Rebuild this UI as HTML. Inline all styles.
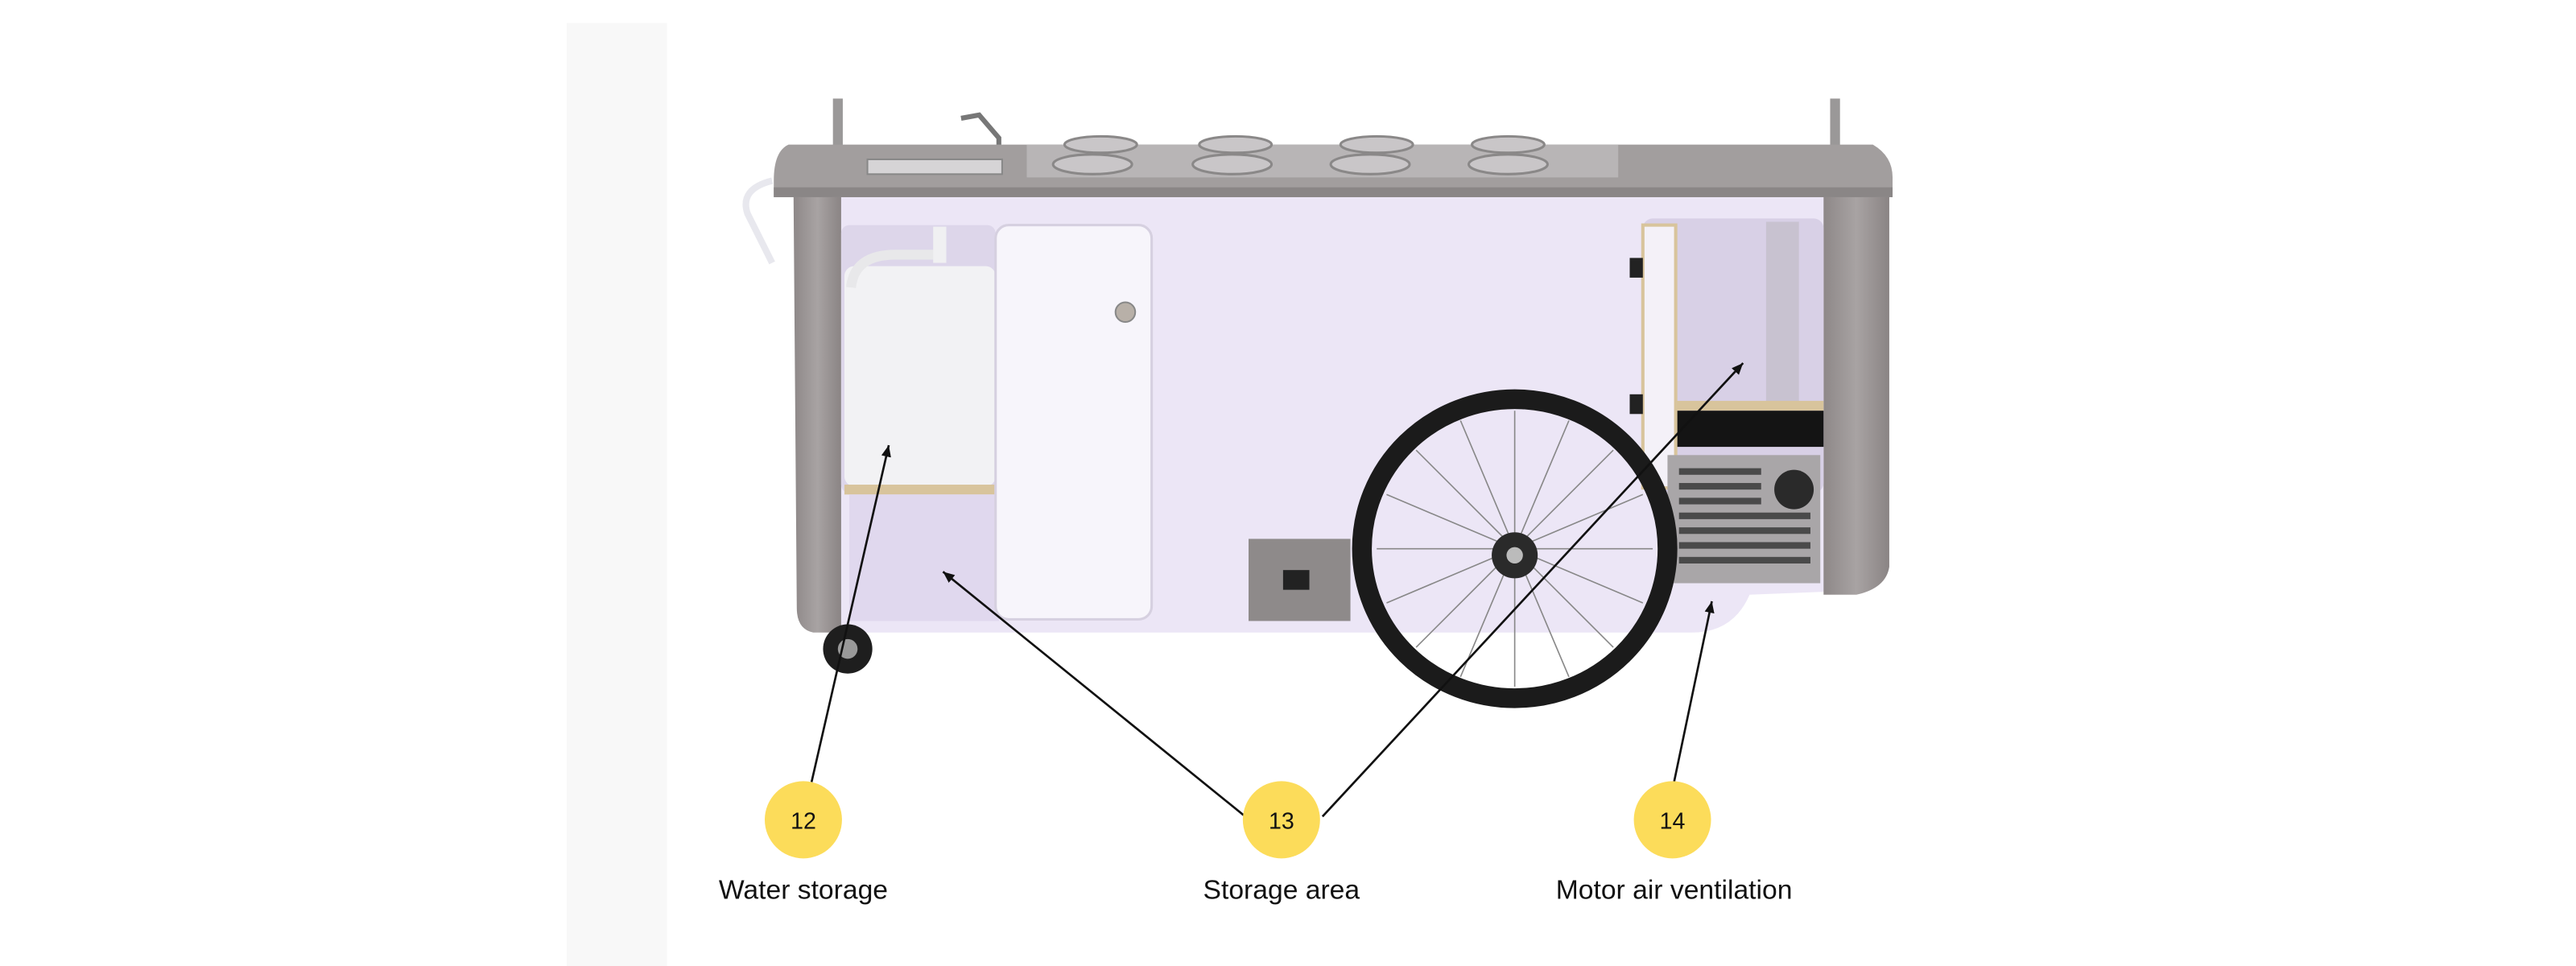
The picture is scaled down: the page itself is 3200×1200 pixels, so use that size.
<!DOCTYPE html>
<html><head><meta charset="utf-8"><style>
html,body{margin:0;padding:0;background:#fff;width:3200px;height:1200px;overflow:hidden}
svg{display:block}
</style></head><body>
<svg width="3200" height="1200" viewBox="0 0 1568 588" preserveAspectRatio="none" xmlns="http://www.w3.org/2000/svg">
<defs>
<marker id="ah" markerWidth="8" markerHeight="8" refX="7" refY="4" orient="auto" markerUnits="userSpaceOnUse"><path d="M0,1 L7,4 L0,7 Z" fill="#111"/></marker>
<linearGradient id="gs" x1="0" x2="1"><stop offset="0" stop-color="#8e8888"/><stop offset=".5" stop-color="#a8a3a3"/><stop offset="1" stop-color="#8a8484"/></linearGradient>
</defs>
<rect x="345" y="14" width="61" height="574" fill="#f8f8f8"/>
<!-- poles -->
<rect x="507" y="60" width="6" height="38" fill="#9a9898"/><rect x="503" y="92" width="14" height="6" fill="#555"/>
<rect x="1114" y="60" width="6" height="38" fill="#9a9898"/><rect x="1110" y="92" width="14" height="6" fill="#555"/>
<!-- faucet -->
<path d="M585,72 L596,70 L608,84 L608,96" stroke="#777" stroke-width="3" fill="none"/>
<!-- handle left -->
<path d="M470,110 Q450,115 455,130 L470,160" stroke="#e8e8ee" stroke-width="4" fill="none"/>
<!-- body -->
<path d="M505,118 L1115,118 L1115,360 L1065,362 Q1055,385 1030,385 L520,385 Q505,385 505,370 Z" fill="#ece6f6"/>
<!-- side panels -->
<path d="M483,116 L512,116 L512,385 L495,385 Q485,383 485,370 Z" fill="url(#gs)"/>
<path d="M1110,116 L1150,116 L1150,345 Q1148,358 1130,362 L1110,362 Z" fill="url(#gs)"/>
<!-- top slab -->
<path d="M480,88 L1140,88 Q1152,95 1152,108 L1152,120 L471,120 L471,110 Q471,92 480,88 Z" fill="#a29e9e"/>
<rect x="471" y="114" width="681" height="6" fill="#8a8686"/>
<rect x="625" y="88" width="360" height="20" fill="#b8b5b6"/>
<rect x="528" y="97" width="82" height="9" fill="#d6d4d6" stroke="#888" stroke-width="1"/>
<g fill="#c9c6c8" stroke="#8a8888" stroke-width="1.5">
<ellipse cx="670" cy="88" rx="22" ry="5"/><ellipse cx="752" cy="88" rx="22" ry="5"/><ellipse cx="838" cy="88" rx="22" ry="5"/><ellipse cx="918" cy="88" rx="22" ry="5"/>
<ellipse cx="665" cy="100" rx="24" ry="6"/><ellipse cx="750" cy="100" rx="24" ry="6"/><ellipse cx="834" cy="100" rx="24" ry="6"/><ellipse cx="918" cy="100" rx="24" ry="6"/>
</g>
<!-- left compartment -->
<rect x="512" y="137" width="94" height="163" rx="5" fill="#ddd6ea"/>
<rect x="514" y="162" width="92" height="134" rx="6" fill="#f2f2f4"/>
<path d="M518,175 Q520,155 545,155 L570,155" stroke="#e8e8ea" stroke-width="6" fill="none"/>
<rect x="568" y="138" width="8" height="22" fill="#f0f0f2"/>
<rect x="514" y="295" width="94" height="6" fill="#d8c49c"/>
<rect x="517" y="301" width="91" height="77" fill="#e0d8ee"/>
<!-- door -->
<rect x="606" y="137" width="95" height="240" rx="8" fill="#f7f5fb" stroke="#d6d0e0" stroke-width="1.5"/>
<circle cx="685" cy="190" r="6" fill="#b8b0a8" stroke="#888"/>
<!-- right compartment -->
<rect x="1000" y="133" width="110" height="167" rx="6" fill="#d8d0e6"/>
<rect x="1075" y="135" width="20" height="115" fill="#c8c2d0"/>
<rect x="1018" y="244" width="92" height="6" fill="#d8c49c"/>
<rect x="1018" y="250" width="92" height="22" fill="#141414"/>
<rect x="1000" y="137" width="20" height="160" fill="#f4f1f8" stroke="#d8c49c" stroke-width="2"/>
<rect x="992" y="157" width="8" height="12" fill="#222"/><rect x="992" y="240" width="8" height="12" fill="#222"/>
<rect x="1015" y="277" width="93" height="78" fill="#a9a6a8"/>
<g fill="#4a4a4a">
<rect x="1022" y="285" width="50" height="4"/><rect x="1022" y="294" width="50" height="4"/><rect x="1022" y="303" width="50" height="4"/><rect x="1022" y="312" width="80" height="4"/><rect x="1022" y="321" width="80" height="4"/><rect x="1022" y="330" width="80" height="4"/><rect x="1022" y="339" width="80" height="4"/>
</g>
<circle cx="1092" cy="298" r="12" fill="#2a2a2a"/>
<!-- plate -->
<rect x="760" y="328" width="62" height="50" fill="#8e8a8a"/>
<rect x="781" y="347" width="16" height="12" fill="#222"/>
<!-- wheel -->
<ellipse cx="922" cy="334" rx="93" ry="91" fill="none" stroke="#1b1b1b" stroke-width="12"/>
<g stroke="#888" stroke-width="0.8">
<line x1="922" y1="334" x2="922" y2="250"/><line x1="922" y1="334" x2="1006" y2="334"/><line x1="922" y1="334" x2="838" y2="334"/><line x1="922" y1="334" x2="922" y2="418"/>
<line x1="922" y1="334" x2="982" y2="274"/><line x1="922" y1="334" x2="862" y2="274"/><line x1="922" y1="334" x2="982" y2="394"/><line x1="922" y1="334" x2="862" y2="394"/>
<line x1="922" y1="334" x2="955" y2="256"/><line x1="922" y1="334" x2="889" y2="256"/><line x1="922" y1="334" x2="955" y2="412"/><line x1="922" y1="334" x2="889" y2="412"/>
<line x1="922" y1="334" x2="1000" y2="301"/><line x1="922" y1="334" x2="844" y2="301"/><line x1="922" y1="334" x2="1000" y2="367"/><line x1="922" y1="334" x2="844" y2="367"/>
</g>
<circle cx="922" cy="338" r="14" fill="#2a2a2a"/><circle cx="922" cy="338" r="5" fill="#bbb"/>
<!-- caster -->
<circle cx="516" cy="395" r="15" fill="#1e1e1e"/><circle cx="516" cy="395" r="6" fill="#999"/>
<!-- leaders -->
<g stroke="#111" stroke-width="1.3" fill="none">
<line x1="494" y1="476" x2="541" y2="271" marker-end="url(#ah)"/>
<line x1="758" y1="497" x2="574" y2="348" marker-end="url(#ah)"/>
<line x1="805" y1="497" x2="1061" y2="221" marker-end="url(#ah)"/>
<line x1="1019" y1="476" x2="1042" y2="366" marker-end="url(#ah)"/>
</g>
<g fill="#fcdc5a">
<circle cx="489" cy="499" r="23.5"/><circle cx="780" cy="499" r="23.5"/><circle cx="1018" cy="499" r="23.5"/>
</g>
<g font-family="Liberation Sans, sans-serif" fill="#111" text-anchor="middle">
<text x="489" y="504.5" font-size="14">12</text>
<text x="780" y="504.5" font-size="14">13</text>
<text x="1018" y="504.5" font-size="14">14</text>
<text x="489" y="547" font-size="16.5">Water storage</text>
<text x="780" y="547" font-size="16.5">Storage area</text>
<text x="1019" y="547" font-size="16.5">Motor air ventilation</text>
</g>
</svg>
</body></html>
